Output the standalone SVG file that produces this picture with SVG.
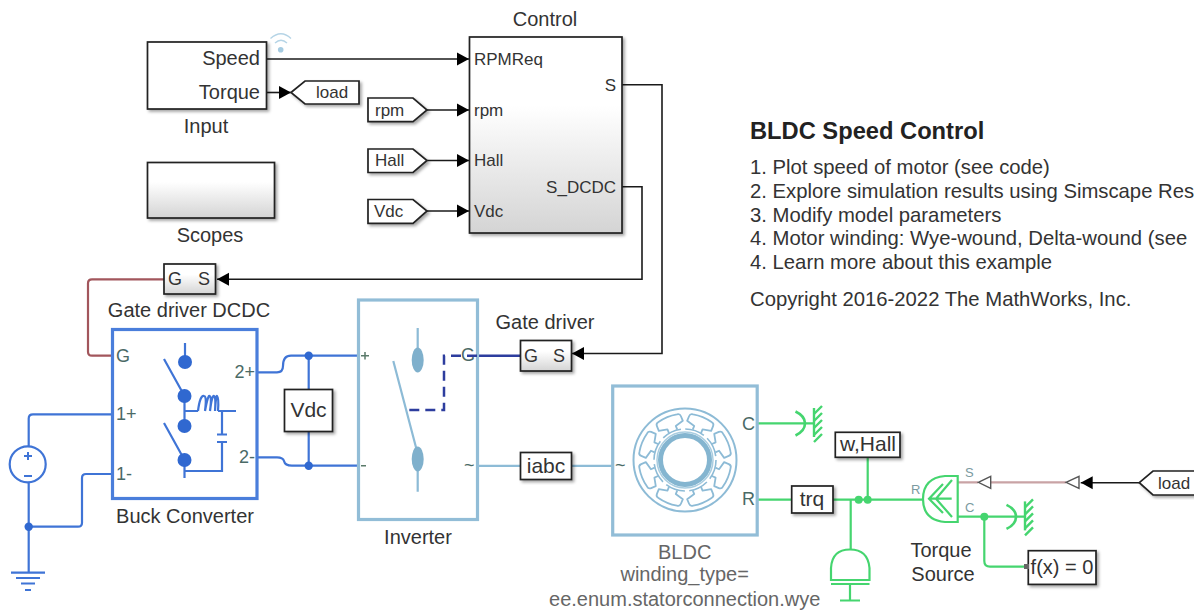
<svg xmlns="http://www.w3.org/2000/svg" width="1194" height="610" viewBox="0 0 1194 610">
<style>
text{font-family:"Liberation Sans",Arial,sans-serif;fill:#333}
.l{font-size:20px;text-anchor:middle}
.bx{font-size:21px;text-anchor:middle}
.gs{font-size:18px;text-anchor:middle}
.io{font-size:20px;text-anchor:end}
.p{font-size:17px}
.pg{font-size:18px;fill:#4a6a66}
.end{text-anchor:end}
.t{font-size:17px}
.n{font-size:20.300px}
.sm{font-size:13px;fill:#7a9aa0}
.gy{fill:#666}
.blk{fill:#fff;stroke:#222;stroke-width:1.7;filter:url(#sh)}
.grad{fill:url(#g);stroke:#222;stroke-width:1.7;filter:url(#sh)}
.w{fill:none;stroke-linejoin:round}
.k{stroke:#1a1a1a;stroke-width:1.6;fill:none}
.b{stroke:#3f74d6;stroke-width:2.2;fill:none}
.lb{stroke:#8dbbd6;stroke-width:2.2;fill:none}
.gr{stroke:#45d56f;stroke-width:2.2;fill:none}
.bf{fill:#3068d0}
.gf{fill:#45d56f}
.frame{fill:#fff;stroke-width:3.2}
</style>
<defs>
<linearGradient id="g" x1="0" y1="0" x2="0" y2="1"><stop offset="0.35" stop-color="#fff"/><stop offset="1" stop-color="#d4d4d4"/></linearGradient>
<filter id="sh" x="-10%" y="-10%" width="125%" height="130%"><feDropShadow dx="2" dy="2" stdDeviation="1.5" flood-color="#000" flood-opacity="0.35"/></filter>
<marker id="ah" markerWidth="12" markerHeight="14" refX="12" refY="7" orient="auto" markerUnits="userSpaceOnUse"><path d="M0 0.500L12 7L0 13.500Z" fill="#000"/></marker>
<g id="mech" fill="none" stroke="#45d56f">
<path d="M795.500 411.500Q805 416 805 423.300Q805 431 795.500 435.500" stroke-width="2.600"/>
<path d="M814 408V437" stroke-width="2.400"/>
<path d="M814 414L822 406M814 421L822 413M814 428L822 420M814 435L822 427M814 442L822 434" stroke-width="2.400"/>
</g>
<g id="tooth" fill="none" stroke="#8dbbd6" stroke-width="1.800" stroke-linejoin="round">
<path d="M-4.500 -31V-35L-13 -37V-42Q-13 -45 -10 -45.200A46 46 0 0 1 10 -45.200Q13 -45 13 -42V-37L4.500 -35V-31"/>
</g>
</defs>

<g id="connectors">
<path class="k" d="M267 59H469" marker-end="url(#ah)"/>
<path class="k" d="M267 92.500H291" marker-end="url(#ah)"/>
<path class="k" d="M427 110H469" marker-end="url(#ah)"/>
<path class="k" d="M427 160.500H469" marker-end="url(#ah)"/>
<path class="k" d="M427 211H469" marker-end="url(#ah)"/>
<path class="k" d="M622 84.700H662V353.500H572" marker-end="url(#ah)"/>
<path class="k" d="M622 186.700H642V279.300H217" marker-end="url(#ah)"/>
<path class="w" stroke="#a2565c" stroke-width="2.200" d="M164 279.300H92Q88 279.300 88 283.300V351.700Q88 355.700 92 355.700H112"/>
<path class="b" d="M112 414.300H33Q28.700 414.300 28.700 418.600V447M28.700 482V572.700M28.700 526.700H78Q82 526.700 82 522.700V478Q82 474 86 474H112"/>
<path class="b" d="M257 372.300H277Q283 372.300 283 366Q283 355.700 291 355.700H365"/>
<path class="b" d="M257 457.300H277Q283 457.300 284 461Q285 465.700 292 465.700H363"/>
<path class="b" d="M308.700 355.700V389M308.700 432V465.700"/>
<circle class="bf" cx="308.700" cy="355.700" r="4.200"/>
<circle class="bf" cx="308.700" cy="465.700" r="4.200"/>
<circle class="bf" cx="28.700" cy="526.700" r="4.200"/>
<path stroke="#2d3d9e" stroke-width="2.500" fill="none" d="M520 355.700H477"/>
<path class="lb" d="M477 465.800H520M571 465.800H612"/>
<path class="gr" d="M757 423.300H814M757 499.700H792M833 499.700H923M867.700 457V499.700M850.700 499.700V549M957.700 516.700H1024M984.300 516.700V561Q984.300 566.700 990 566.700H1026"/>
<circle class="gf" cx="858.700" cy="499.700" r="4"/>
<circle class="gf" cx="867.700" cy="499.700" r="4"/>
<circle class="gf" cx="984.300" cy="516.700" r="4"/>
<path stroke="#c9a3a5" stroke-width="2.200" fill="none" d="M957.700 482.300H978M991 482.300H1066"/>
<path fill="#fff" stroke="#555" stroke-width="1.400" d="M978.300 482.300L990.700 476.300V488.300Z"/>
<path fill="#fff" stroke="#555" stroke-width="1.400" d="M1066 482.300L1079 476.300V488.300Z"/>
<path class="k" d="M1139.300 482.700H1080.700" marker-end="url(#ah)"/>
<use href="#mech"/>
<use href="#mech" x="211" y="93.400"/>
</g>

<g id="input"><rect class="blk" x="147.500" y="42" width="119" height="67"/>
<text class="io" x="260" y="65">Speed</text><text class="io" x="260" y="99">Torque</text>
<text class="l" x="206" y="133">Input</text>
<g fill="none" stroke="#b5d4e6" stroke-width="1.300"><path d="M270.500 38.500Q281 29 291 38.500"/><path d="M275 43Q281 37.500 287 43"/></g><circle cx="280.700" cy="49.700" r="2.800" fill="#a5cbe1"/>
</g>
<g id="scopes"><rect class="grad" x="147.500" y="162.500" width="127" height="55.500"/><text class="l" x="210" y="242">Scopes</text></g>
<g id="goto-load"><path class="blk" d="M291 92.500L305 81H359V104H305Z"/><text class="t" x="316" y="98">load</text></g>
<g id="from-rpm"><path class="blk" d="M368 98H413L427 110L413 121.700H368Z"/><text class="t" x="375" y="116">rpm</text></g>
<g id="from-hall"><path class="blk" d="M368 149H413L427 160.500L413 172.500H368Z"/><text class="t" x="375" y="166">Hall</text></g>
<g id="from-vdc"><path class="blk" d="M368 199.500H413L427 211L413 223.300H368Z"/><text class="t" x="374" y="217">Vdc</text></g>
<g id="control"><rect class="grad" x="469.500" y="37" width="152.500" height="196"/>
<text class="l" x="545" y="26">Control</text>
<text class="p" x="474" y="65">RPMReq</text><text class="p" x="474" y="116">rpm</text><text class="p" x="474" y="166">Hall</text><text class="p" x="474" y="217">Vdc</text>
<text class="p end" x="616" y="91">S</text><text class="p end" x="616" y="193">S_DCDC</text></g>

<g id="gate-driver-dcdc"><rect class="grad" x="164" y="264" width="51.500" height="30"/><text class="gs" x="175" y="285">G</text><text class="gs" x="204" y="285">S</text><text class="l" x="189" y="317">Gate driver DCDC</text></g>
<g id="buck"><rect class="frame" x="112.500" y="329.500" width="144.500" height="169" stroke="#4a7edb"/>
<text class="pg" x="116" y="362">G</text><text class="pg" x="116" y="420">1+</text><text class="pg" x="116" y="480">1-</text>
<text class="pg end" x="255" y="378">2+</text><text class="pg end" x="255" y="463">2-</text>
<path class="b" d="M185 343V362M164 359L184.500 396M184.500 396V426M185 411H198M218 411H236M164 423L184.500 460M184.500 460V478M185 471H222V442M222 434V411M217 434.500H227M217 442H227"/>
<path class="b" d="M198 411Q200 395 204 396Q207 396 205 411Q208 395 209.500 396Q212 396 210 411Q212 395 214 396Q216 396 215 411Q216 395 217 396Q219 398 218 411"/>
<circle class="bf" cx="185" cy="362" r="7"/><circle class="bf" cx="184.500" cy="396" r="7"/><circle class="bf" cx="184.500" cy="426" r="7"/><circle class="bf" cx="184.500" cy="460" r="7"/>
<text class="l" x="185" y="523">Buck Converter</text></g>
<g id="source"><circle cx="27.700" cy="464.300" r="18" fill="#fff" stroke="#3f74d6" stroke-width="2.200"/><path stroke="#3f74d6" stroke-width="2" d="M24 456H32M28 452V460M24 476H32"/></g>
<g id="ground"><path stroke="#3f74d6" stroke-width="2.200" d="M11 572.700H45M16 578H40M21 583.500H35M25 590H31"/></g>
<g id="vdc"><rect class="blk" x="284.500" y="389.500" width="48" height="42"/><text class="bx" x="308.500" y="417">Vdc</text></g>
<g id="inverter"><rect class="frame" x="358.500" y="300" width="119" height="219.500" stroke="#92bdd7"/>
<path stroke="#5a7a6a" stroke-width="1.500" d="M361 355.700H369M365 352V359.500M361 465.700H366"/>
<text class="pg" x="461" y="361">G</text><text class="pg" x="464" y="471">~</text>
<path class="lb" d="M417.700 328V360M417.700 459V491.700M393.300 361L416.700 450"/>
<ellipse cx="417.700" cy="360" rx="6" ry="12.500" fill="#7fb0cc"/><ellipse cx="417.700" cy="459" rx="6" ry="12.500" fill="#7fb0cc"/>
<path fill="none" stroke="#2d3d9e" stroke-width="2.500" stroke-dasharray="10 6" d="M477 355.700H444V410H406"/>
<text class="l" x="418" y="544">Inverter</text></g>
<g id="gate-driver"><rect class="grad" x="520.500" y="340.500" width="51" height="30.500"/><text class="gs" x="531" y="362">G</text><text class="gs" x="559" y="362">S</text><text class="l" x="545" y="329">Gate driver</text></g>
<g id="iabc"><rect class="blk" x="520.500" y="452.500" width="51" height="27"/><text class="bx" x="546" y="473">iabc</text></g>
<g id="bldc"><rect class="frame" x="612.700" y="386" width="144.500" height="149" stroke="#92bdd7"/>
<text class="pg" x="615" y="471">~</text><text class="pg end" x="755" y="430">C</text><text class="pg end" x="755" y="505">R</text>
<circle cx="685" cy="460" r="51.500" fill="none" stroke="#8dbbd6" stroke-width="2"/>
<g transform="translate(685 460)">
<use href="#tooth" transform="rotate(22.500)"/><use href="#tooth" transform="rotate(67.500)"/><use href="#tooth" transform="rotate(112.500)"/><use href="#tooth" transform="rotate(157.500)"/><use href="#tooth" transform="rotate(202.500)"/><use href="#tooth" transform="rotate(247.500)"/><use href="#tooth" transform="rotate(292.500)"/><use href="#tooth" transform="rotate(337.500)"/>
<circle r="31" fill="none" stroke="#8dbbd6" stroke-width="1.600" stroke-dasharray="20 4.350"/>
<circle r="24.500" fill="none" stroke="#84b5d0" stroke-width="5"/>
<circle r="28" fill="none" stroke="#a9cde0" stroke-width="1.500"/>
</g>
<text class="l gy" x="684.700" y="559">BLDC</text><text class="l gy" x="684.700" y="581">winding_type=</text><text class="l gy" x="684.700" y="606">ee.enum.statorconnection.wye</text></g>
<g id="trq"><rect class="blk" x="791.700" y="486" width="41.300" height="27"/><text class="bx" x="812" y="506">trq</text></g>
<g id="whall"><rect class="blk" x="835.300" y="432.300" width="64.700" height="25"/><text class="bx" x="868" y="451">w,Hall</text></g>
<g id="inertia" fill="none" stroke="#45d56f" stroke-width="2.200"><path d="M831 580V568Q832 549.500 850 549.500Q868 549.500 869.500 568V580Z"/><path d="M831 584H869.500M850 584V600M840 600.500H860"/></g>
<g id="torque-source"><path d="M957.700 476H945Q923 478 923 499Q923 520 945 522H957.700Z" fill="#fff" stroke="#45d56f" stroke-width="2.200"/>
<path class="gr" d="M951.700 498.700H929M943 484L929 498.700L943 513M952 480L936 498.700L952 517"/>
<text class="sm" x="911" y="494">R</text><text class="sm" x="965" y="477">S</text><text class="sm" x="965" y="512">C</text>
<text class="l" x="941" y="557">Torque</text><text class="l" x="943" y="581">Source</text></g>
<g id="fx"><rect class="blk" x="1028.300" y="550.700" width="67.700" height="33.700"/><text class="l" x="1062" y="574">f(x) = 0</text><rect x="1024" y="564" width="5" height="5" fill="#666"/></g>
<g id="goto-load2"><path class="blk" d="M1139.300 482.700L1153 471H1200V495H1153Z"/><text class="t" x="1158" y="489">load</text></g>
<g id="notes">
<text x="750" y="139" style="font-size:23.700px;font-weight:bold;fill:#222">BLDC Speed Control</text>
<text class="n" x="750" y="174">1. Plot speed of motor (see code)</text>
<text class="n" x="750" y="198">2. Explore simulation results using Simscape Res</text>
<text class="n" x="750" y="222">3. Modify model parameters</text>
<text class="n" x="750" y="245">4. Motor winding: Wye-wound, Delta-wound (see</text>
<text class="n" x="750" y="269">4. Learn more about this example</text>
<text class="n" x="750" y="306">Copyright 2016-2022 The MathWorks, Inc.</text>
</g>
</svg>
